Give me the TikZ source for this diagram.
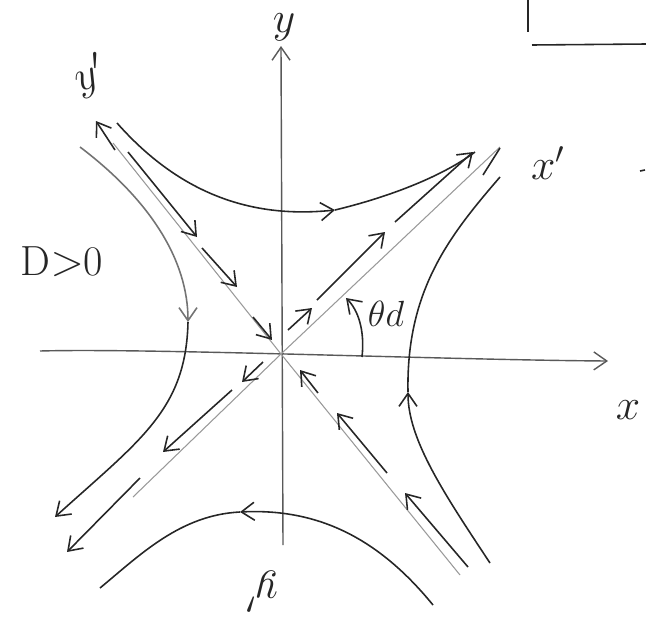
\documentclass[tikz,border=0pt]{standalone}
\usetikzlibrary{arrows.meta}
\begin{document}
\begin{tikzpicture}[
  x=0.02cm, y=-0.02cm,
  axis/.style={draw=black!65, line width=0.8pt},
  sep/.style={draw=black!40, line width=0.6pt},
  curve/.style={draw=black!85, line width=0.9pt},
  flow/.style={-{Straight Barb[length=2.6mm,width=3.6mm]}},
  lbl/.style={font=\fontsize{24}{24}\selectfont, text=black!85, inner sep=1pt}
]
\useasboundingbox (0,0) rectangle (646,619);
\coordinate (o) at (281,354);

\draw[axis, flow] (283,545) -- (281,46);
\draw[axis, flow] (40,351) .. controls (150,348) and (450,360) .. (608,361);

\draw[sep] (113,143) -- (o) -- (460,575);
\draw[sep] (133,497) -- (o) -- (500,147);

\draw[curve, flow] (117,123) .. controls (185,200) and (260,218) .. (335,210);
\draw[curve] (335,210) .. controls (385,198) and (440,178) .. (475,152);
\draw[curve, flow] (490,563) .. controls (445,495) and (408,440) .. (408,392);
\draw[curve] (408,392) .. controls (406,290) and (450,235) .. (500,177);
\draw[curve, draw=black!55, flow] (80,147) .. controls (150,200) and (188,260) .. (188,322);
\draw[curve, flow] (188,322) .. controls (186,410) and (140,440) .. (55,517);
\draw[curve, flow] (433,605) .. controls (380,540) and (320,508) .. (240,512);
\draw[curve] (240,512) .. controls (180,515) and (140,555) .. (100,588);

\draw[curve, flow] (115,150) -- (96,121);
\draw[curve, flow] (128,152) -- (197,237);
\draw[curve, flow] (202,248) -- (237,287);
\draw[curve, flow] (253,317) -- (272,340);
\draw[curve, flow] (318,393) -- (300,370);
\draw[curve, flow] (387,473) -- (337,413);
\draw[curve, flow] (468,567) -- (405,493);

\draw[curve, flow] (288,330) -- (312,308);
\draw[curve, flow] (317,300) -- (385,232);
\draw[curve, flow] (395,222) -- (473,152);
\draw[curve] (483,175) -- (500,148);
\draw[curve, flow] (263,362) -- (242,382);
\draw[curve, flow] (232,390) -- (163,452);
\draw[curve, flow] (140,478) -- (67,552);

\draw[curve, flow] (362,357) .. controls (365,330) and (358,310) .. (346,298);

\draw[curve] (528,0) -- (528,32);
\draw[curve] (532,45) -- (646,44);
\draw[curve] (640,171) -- (645,170);

\node[lbl] (ylbl) at (284,27) {$y$};
\node[lbl, rotate=20] (yplbl) at (90,76) {$y'$};
\node[lbl] (xplbl) at (548,163) {$x'$};
\node[lbl] (xlbl) at (628,410) {$x$};
\node[lbl] (dlbl) at (62,262) {D$>$0};
\node[lbl, font=\fontsize{20}{20}\selectfont] (thlbl) at (386,314) {$\theta d$};
\node[lbl, rotate=180] (bylbl) at (262,592) {$y'$};
\end{tikzpicture}
\end{document}
